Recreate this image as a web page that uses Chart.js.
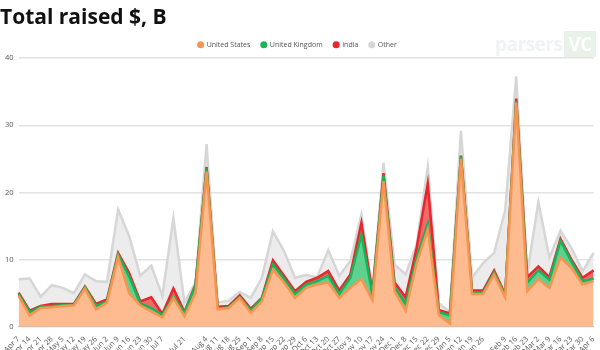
<!DOCTYPE html>
<html>
<head>
<meta charset="utf-8">
<script src="https://cdn.jsdelivr.net/npm/chart.js@4"></script>
<style>
  html, body { margin: 0; padding: 0; background: #fff; overflow: hidden; }
  #wrap { position: relative; width: 600px; height: 350px; overflow: hidden; }
  #mark { position: absolute; left: 495px; top: 31px; font-family: "Open Sans", sans-serif; font-size: 19px; font-weight: 700; color: #f0f2f3; letter-spacing: -0.5px; }
  #mark span { background: #e8f2e9; color: #fff; padding: 0 4px; margin-left: 2px; }
</style>
</head>
<body>
<div id="wrap">
  <canvas id="myChart" width="600" height="359"></canvas>
  <div id="mark">parsers<span>VC</span></div>
</div>
<script>
const weeks = ['Apr 7','Apr 14','Apr 21','Apr 28','May 5','May 12','May 19','May 26','Jun 2','Jun 9','Jun 16','Jun 23','Jun 30','Jul 7','Jul 14','Jul 21','Jul 28','Aug 4','Aug 11','Aug 18','Aug 25','Sep 1','Sep 8','Sep 15','Sep 22','Sep 29','Oct 6','Oct 13','Oct 20','Oct 27','Nov 3','Nov 10','Nov 17','Nov 24','Dec 1','Dec 8','Dec 15','Dec 22','Dec 29','Jan 5','Jan 12','Jan 19','Jan 26','Feb 2','Feb 9','Feb 16','Feb 23','Mar 2','Mar 9','Mar 16','Mar 23','Mar 30','Apr 6'];
// weeks whose tick label is not shown on the original
const hiddenTicks = ['Jul 14','Jul 28','Feb 2'];

const unitedStates = [4.6,1.7,2.8,2.9,3.1,3.2,5.7,2.6,3.6,10.4,5.0,3.2,2.3,1.4,4.3,1.6,5.0,23.1,2.6,2.8,4.3,2.1,3.8,8.5,6.6,4.3,5.8,6.3,6.6,4.3,5.8,7.1,4.0,21.7,5.3,2.4,9.5,14.5,1.8,0.5,25.0,4.9,4.9,7.8,4.4,33.4,5.3,7.1,5.8,10.3,8.8,6.3,6.8];
const unitedKingdom = [0.3,0.5,0.2,0.2,0.1,0.1,0.2,0.5,0.2,0.4,2.5,0.3,0.5,0.4,0.2,0.5,1.2,0.5,0.1,0.1,0.1,0.4,0.4,0.8,0.6,0.6,0.5,0.5,1.0,0.6,1.5,6.6,0.8,0.8,0.6,1.0,0.8,0.8,0.4,1.2,0.4,0.2,0.2,0.3,0.2,0.2,1.3,1.3,1.2,2.5,0.9,0.5,0.4];
const india = [0.2,0.2,0.1,0.3,0.2,0.1,0.1,0.3,0.3,0.2,0.5,0.3,1.6,0.1,1.2,0.1,0.1,0.2,0.3,0.2,0.3,0.2,0.1,0.6,0.4,0.4,0.4,0.5,0.7,0.5,0.5,1.8,0.3,0.4,0.7,1.0,1.5,6.0,0.3,0.3,0.1,0.3,0.3,0.3,0.2,0.4,0.8,0.6,0.4,0.3,0.3,0.5,1.2];
const other = [2.0,4.8,1.4,2.8,2.4,1.6,1.8,3.4,2.6,6.5,5.5,3.8,4.7,2.7,10.5,1.4,0.3,3.4,0.6,0.8,0.5,1.6,3.0,4.3,3.7,2.0,1.0,0.1,3.1,2.2,2.0,1.2,0.3,1.5,2.7,3.4,0.5,2.5,1.0,0.2,3.7,1.9,4.1,2.6,12.5,3.3,0.5,9.6,2.9,1.2,1.7,1.0,2.6];

const yTicks = [0, 10, 20, 30, 40];

function series(label, values, line, area, fill) {
  return {
    label: label,
    data: values,
    borderColor: line,
    backgroundColor: area,
    pointBackgroundColor: line,
    borderWidth: 2.5,
    pointRadius: 0,
    tension: 0,
    fill: fill
  };
}

const data = {
  labels: weeks,
  datasets: [
    series('United States', unitedStates, '#f7944f', '#fdbb8f', 'origin'),
    series('United Kingdom', unitedKingdom, '#19b35a', '#5fd18f', '-1'),
    series('India', india, '#e8262b', '#f06a6a', '-1'),
    series('Other', other, '#d6d6d6', '#ececec', '-1')
  ]
};

const config = {
  type: 'line',
  data,
  options: {
    responsive: false,
    animation: false,
    layout: { padding: { left: 0, right: 5, top: 0, bottom: 0 } },
    plugins: {
      title: {
        display: true,
        text: 'Total raised $, B',
        align: 'start',
        color: '#111',
        font: { family: 'Open Sans', size: 21, weight: 'bold' },
        padding: { top: 5, bottom: 0 }
      },
      legend: {
        labels: {
          usePointStyle: true,
          pointStyle: 'circle',
          boxWidth: 5,
          boxHeight: 5,
          padding: 11,
          color: '#555',
          font: { family: 'Open Sans', size: 7 },
          generateLabels: function (chart) {
            return chart.data.datasets.map(function (ds, i) {
              return {
                text: ds.label,
                fillStyle: ds.borderColor,
                strokeStyle: ds.borderColor,
                lineWidth: 0,
                pointStyle: 'circle',
                fontColor: '#555',
                datasetIndex: i
              };
            });
          }
        }
      },
      tooltip: { enabled: false }
    },
    scales: {
      x: {
        grid: { display: false },
        border: { color: '#bbb' },
        ticks: {
          autoSkip: false,
          maxRotation: 45,
          minRotation: 45,
          padding: 0,
          color: '#555',
          font: { family: 'Open Sans', size: 7.5 },
          callback: function (value) {
            const name = weeks[value];
            return hiddenTicks.includes(name) ? '' : name;
          }
        }
      },
      y: {
        stacked: true,
        min: 0,
        max: 40,
        afterBuildTicks: function (axis) {
          axis.ticks = yTicks.map(function (v) { return { value: v }; });
        },
        grid: { color: '#e2e2e2', lineWidth: 1.5, drawTicks: false },
        border: { display: false },
        ticks: {
          padding: 5,
          color: '#555',
          font: { family: 'Open Sans', size: 7.5 }
        }
      }
    }
  }
};

const myChart = new Chart(
  document.getElementById('myChart'),
  config
);
</script>
</body>
</html>
